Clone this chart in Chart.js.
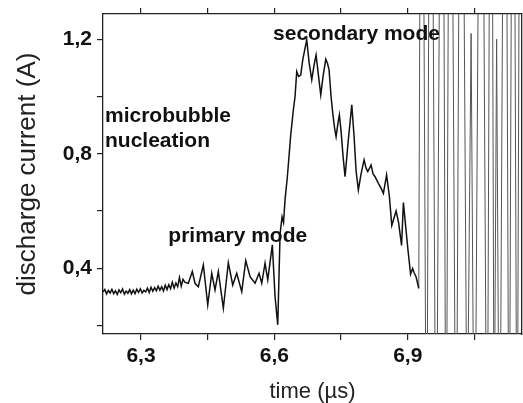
<!DOCTYPE html>
<html>
<head>
<meta charset="utf-8">
<script src="https://cdn.jsdelivr.net/npm/chart.js@4.4.1/dist/chart.umd.min.js"></script>
<style>
  html, body { margin: 0; padding: 0; background: #ffffff; }
  #wrap { width: 523px; height: 403px; }
</style>
</head>
<body>
<div id="wrap"><canvas id="c" width="523" height="403"></canvas></div>
<script>
// ---- data (time in µs, discharge current in A) ----
const timeMain = [
  6.2145, 6.2185, 6.2225, 6.2265, 6.2305, 6.2345, 6.2385, 6.2425, 6.2465, 6.2505,
  6.2545, 6.2585, 6.2625, 6.2665, 6.2705, 6.2745, 6.2785, 6.2825, 6.2865, 6.2905,
  6.2945, 6.2985, 6.3025, 6.3065, 6.3105, 6.3145, 6.3185, 6.3225, 6.3265, 6.3305,
  6.3345, 6.3385, 6.3425, 6.3465, 6.3505, 6.3545, 6.3585, 6.3625, 6.3665, 6.3705,
  6.3745, 6.3785, 6.3825, 6.3865, 6.3905, 6.3945, 6.3985, 6.4064, 6.4154, 6.4215,
  6.4289, 6.4402, 6.4501, 6.4591, 6.4665, 6.4739, 6.4852, 6.4964, 6.5063, 6.5153,
  6.5266, 6.5356, 6.5453, 6.5565, 6.5655, 6.5716, 6.5790, 6.5851, 6.5954, 6.6015,
  6.6076, 6.6128, 6.6173, 6.6206, 6.6240, 6.6292, 6.6368, 6.6427, 6.6465, 6.6503,
  6.6544, 6.6593, 6.6638, 6.6679, 6.6728, 6.6780, 6.6841, 6.6893, 6.6938, 6.6994,
  6.7043, 6.7095, 6.7156, 6.7196, 6.7230, 6.7275, 6.7313, 6.7354, 6.7388, 6.7433,
  6.7462, 6.7500, 6.7545, 6.7590, 6.7658, 6.7741, 6.7793, 6.7838, 6.7889, 6.7950,
  6.8018, 6.8063, 6.8101, 6.8141, 6.8175, 6.8220, 6.8265, 6.8339, 6.8400, 6.8452,
  6.8524, 6.8587, 6.8641, 6.8738, 6.8794, 6.8861, 6.8902, 6.8951, 6.9008, 6.9064,
  6.9109, 6.9143, 6.9188, 6.9248
];
const currentMain = [
  0.318, 0.326, 0.311, 0.323, 0.314, 0.327, 0.312, 0.322, 0.309, 0.325,
  0.315, 0.328, 0.310, 0.321, 0.313, 0.326, 0.311, 0.324, 0.312, 0.327,
  0.316, 0.329, 0.314, 0.323, 0.318, 0.331, 0.316, 0.334, 0.320, 0.333,
  0.322, 0.338, 0.324, 0.336, 0.321, 0.341, 0.326, 0.343, 0.329, 0.352,
  0.331, 0.349, 0.336, 0.368, 0.338, 0.362, 0.352, 0.348, 0.389, 0.348,
  0.336, 0.412, 0.273, 0.383, 0.325, 0.389, 0.261, 0.420, 0.342, 0.383,
  0.319, 0.427, 0.371, 0.348, 0.383, 0.348, 0.418, 0.360, 0.482, 0.302,
  0.203, 0.520, 0.580, 0.560, 0.640, 0.720, 0.866, 0.953, 1.000, 1.087,
  1.070, 1.075, 1.128, 1.160, 1.198, 1.120, 1.058, 1.110, 1.145, 1.070,
  1.006, 1.070, 1.130, 1.115, 1.093, 1.000, 0.942, 0.890, 0.860, 0.910,
  0.936, 0.880, 0.790, 0.720, 0.840, 0.971, 0.860, 0.740, 0.674, 0.730,
  0.779, 0.750, 0.738, 0.750, 0.761, 0.730, 0.720, 0.697, 0.680, 0.662,
  0.726, 0.651, 0.550, 0.600, 0.560, 0.480, 0.630, 0.550, 0.460, 0.380,
  0.400, 0.385, 0.370, 0.330
];
// off-scale oscillation after breakdown
const timeBurst = [
  6.9248, 6.9311, 6.9424, 6.9514, 6.9638, 6.9773, 6.9863, 6.9953, 7.0088, 7.0200,
  7.0335, 7.0425, 7.0504, 7.0650, 7.0785, 7.0875, 7.0943, 7.0999, 7.1066, 7.1190,
  7.1280, 7.1370, 7.1460, 7.1539, 7.1618
];
const currentBurst = [
  0.33, 3.0, -0.6, 3.0, -0.6, 3.0, -0.6, 3.0, -0.6, 3.0,
  -0.3, 1.22, -0.6, 3.0, -0.6, 3.0, -0.3, 1.20, -0.6, 3.0,
  -0.6, 3.0, -0.6, 3.0, -0.6
];
const xMajorTicks = [6.3, 6.6, 6.9];
const yMajorTicks = [0.4, 0.8, 1.2];
const labelTexts = ['microbubble', 'nucleation', 'primary mode', 'secondary mode'];
const labelTimes = [6.219, 6.219, 6.3614, 6.597];
const labelCurrents = [0.912, 0.825, 0.4935, 1.198];

// ---- chart ----
const FONT = '"Liberation Sans", Arial, Helvetica, sans-serif';
const AXC = '#222';
function isMajor(v, list) { return list.some(m => Math.abs(m - v) < 1e-6); }
function fmt(v) { return v.toFixed(1).replace('.', ','); }
function noPad(s) { s.paddingTop = 0; s.paddingBottom = 0; s.paddingLeft = 0; s.paddingRight = 0; }

const annotate = {
  id: 'annotate',
  afterDatasetsDraw(chart) {
    const ctx = chart.ctx, xs = chart.scales.x, ys = chart.scales.y;
    ctx.save();
    ctx.font = 'bold 21px ' + FONT;
    ctx.fillStyle = '#111';
    ctx.textAlign = 'left';
    ctx.textBaseline = 'alphabetic';
    labelTexts.forEach((t, i) => {
      ctx.fillText(t, xs.getPixelForValue(labelTimes[i]), ys.getPixelForValue(labelCurrents[i]));
    });
    ctx.restore();
  }
};

new Chart(document.getElementById('c'), {
  type: 'line',
  data: {
    datasets: [
      {
        data: timeMain.map((t, i) => ({x: t, y: currentMain[i]})),
        borderColor: '#111', borderWidth: 1.5, pointRadius: 0, tension: 0, clip: 0
      },
      {
        data: timeBurst.map((t, i) => ({x: t, y: currentBurst[i]})),
        borderColor: '#555', borderWidth: 1, pointRadius: 0, tension: 0, clip: 0
      }
    ]
  },
  options: {
    responsive: false,
    devicePixelRatio: 1,
    animation: false,
    layout: { autoPadding: false, padding: { left: 0, right: 0, top: 0, bottom: 0 } },
    plugins: { legend: { display: false }, tooltip: { enabled: false } },
    scales: {
      x: {
        type: 'linear', position: 'bottom', min: 6.2145, max: 7.157,
        afterFit(s) { s.height = 69; noPad(s); },
        border: { display: true, color: AXC, width: 1.3 },
        grid: { drawOnChartArea: false, drawTicks: true, tickLength: 6, color: AXC, lineWidth: 1.2 },
        ticks: {
          stepSize: 0.15, includeBounds: false, autoSkip: false, maxRotation: 0, padding: 4,
          color: '#111', font: { family: FONT, size: 21, weight: 'bold' },
          callback: v => isMajor(v, xMajorTicks) ? fmt(v) : ''
        },
        title: { display: true, text: 'time (µs)', color: AXC,
          font: { family: FONT, size: 22, lineHeight: 1 }, padding: { top: 0, bottom: 0 } }
      },
      x2: {
        type: 'linear', position: 'top', min: 6.2145, max: 7.157,
        afterFit(s) { s.height = 14; noPad(s); },
        border: { display: true, color: AXC, width: 1.3 },
        grid: { drawOnChartArea: false, drawTicks: true, tickLength: 6, color: AXC, lineWidth: 1.2 },
        ticks: { display: false, stepSize: 0.15, includeBounds: false, autoSkip: false }
      },
      y: {
        type: 'linear', position: 'left', min: 0.171, max: 1.288,
        afterFit(s) { s.width = 103; noPad(s); },
        border: { display: true, color: AXC, width: 1.3 },
        grid: { drawOnChartArea: false, drawTicks: true, tickLength: 6, color: AXC, lineWidth: 1.2 },
        ticks: {
          stepSize: 0.2, includeBounds: false, autoSkip: false, padding: 5,
          color: '#111', font: { family: FONT, size: 21, weight: 'bold' },
          callback: v => isMajor(v, yMajorTicks) ? fmt(v) : ''
        },
        title: { display: true, text: 'discharge current (A)', color: AXC,
          font: { family: FONT, size: 26, lineHeight: 1 }, padding: { top: 15, bottom: 0 } }
      },
      y2: {
        type: 'linear', position: 'right', min: 0.171, max: 1.288,
        afterFit(s) { s.width = 1; noPad(s); },
        border: { display: true, color: AXC, width: 1.3 },
        grid: { display: false },
        ticks: { display: false }
      }
    }
  },
  plugins: [annotate]
});
</script>
</body>
</html>
